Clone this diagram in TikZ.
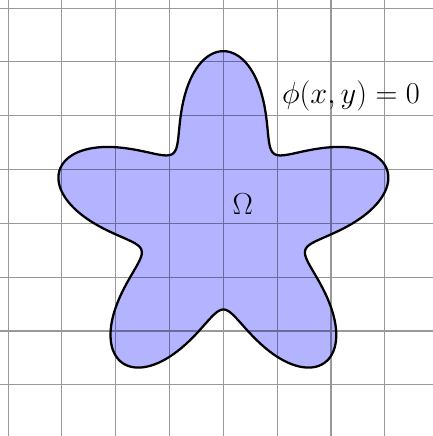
\documentclass[tikz,border=0pt]{standalone}
\usepackage{amsmath,amssymb}
\usepackage{tikz}
\usetikzlibrary{positioning}
\usepackage{xcolor}
\definecolor{domainfill}{HTML}{B3B3FF}
\definecolor{gridline}{HTML}{000000}

\begin{document}
\begin{tikzpicture}[font=\LARGE, label/.style={scale=0.93}]
  \useasboundingbox (-4.15,-3.95) rectangle (3.89,4.15);
  \fill[domainfill] plot[domain=0:360, samples=361, variable=\t]
    ({(2.4+0.8*sin(5*\t))*cos(\t)}, {(2.4+0.8*sin(5*\t))*sin(\t)}) -- cycle;
  \draw[step=1, gridline, opacity=0.4, line width=0.6pt] (-4.15,-3.95) grid (3.89,4.15);
  \draw[black, line width=1.2pt] plot[domain=0:360, samples=361, variable=\t]
    ({(2.4+0.8*sin(5*\t))*cos(\t)}, {(2.4+0.8*sin(5*\t))*sin(\t)}) -- cycle;
  \node[label] (omega) at (0.36,0.35) {$\Omega$};
  \node[label] (levelset) at (2.37,2.36) {$\phi(x,y)=0$};
\end{tikzpicture}
\end{document}
